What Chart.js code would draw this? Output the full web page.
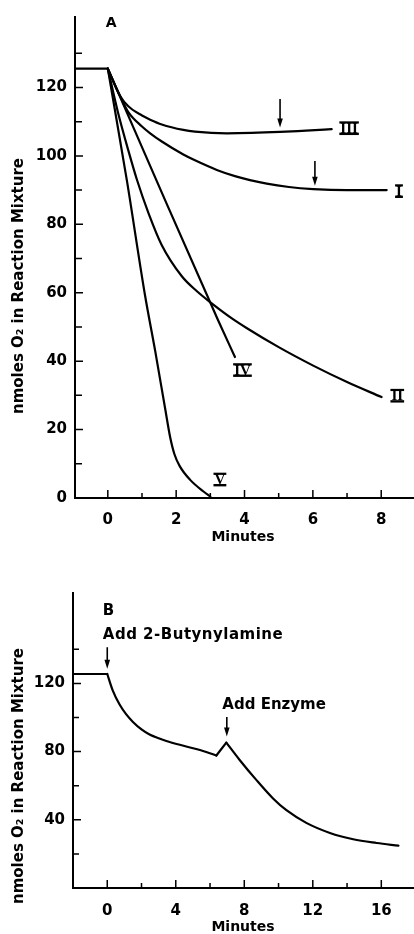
<!DOCTYPE html>
<html><head><meta charset="utf-8">
<script src="https://cdn.jsdelivr.net/npm/chart.js@4/dist/chart.umd.min.js"></script>
<style>
html,body{margin:0;padding:0;background:#fff;}
#wrapA{position:absolute;left:0;top:0;width:414px;height:550px;}
#wrapB{position:absolute;left:0;top:560px;width:414px;height:374px;}
canvas{display:block;}
</style></head><body>
<div id="wrapA"><canvas id="chartA" width="414" height="550"></canvas></div>
<div id="wrapB"><canvas id="chartB" width="414" height="374"></canvas></div>
<script>
// ---------- Panel A data (minutes, nmoles O2) ----------
const baseA_t = [-0.96, 0];
const baseA_o2 = [125.5, 125.5];
const curveI_t  = [0, 0.36, 0.6, 1.0, 1.24, 1.58, 2.21, 2.55, 3.19, 3.72, 4.65, 5.3, 6.01, 7.0, 8.16];
const curveI_o2 = [125.5, 117.5, 112.8, 108.6, 106.6, 104.2, 100.4, 98.7, 95.9, 94.1, 91.9, 90.9, 90.3, 90.0, 90.0];
const curveII_t  = [0, 0.3, 0.6, 0.85, 1.19, 1.58, 2.16, 2.6, 3.04, 3.63, 4.06, 5.0, 6.01, 7.0, 8.01];
const curveII_o2 = [125.5, 112.6, 101.6, 93.1, 83.3, 73.9, 64.9, 60.5, 56.9, 52.5, 49.7, 44.1, 38.7, 33.9, 29.5];
const curveIII_t  = [0, 0.36, 0.6, 1.0, 1.24, 1.58, 2.21, 2.55, 3.48, 4.2, 5.04, 5.8, 6.55];
const curveIII_o2 = [125.5, 117.5, 114.5, 111.8, 110.6, 109.2, 107.6, 107.1, 106.6, 106.7, 107.0, 107.4, 107.8];
const curveIV_t  = [0, 1.43, 3.23, 3.72];
const curveIV_o2 = [125.5, 92.7, 51.9, 41.2];
const curveV_t  = [0, 0.56, 1.09, 1.39, 1.68, 1.82, 1.95, 2.1, 2.41, 2.8, 3.0];
const curveV_o2 = [125.5, 92.7, 59.2, 42.8, 26.0, 18.0, 12.8, 9.4, 5.3, 1.9, 0.4];
const xTicksA = [0, 2, 4, 6, 8];
const xMinorA = [1, 3, 5, 7];
const yTicksA = [0, 20, 40, 60, 80, 100, 120];
const yMinorA = [10, 30, 50, 70, 90, 110, 130];
const curveLabelsA = ['I', 'II', 'III', 'IV', 'V'];
const curveLabelT  = [8.52, 8.47, 7.06, 3.94, 3.28];
const curveLabelO2 = [89.8, 30.0, 108.2, 37.5, 5.5];
const arrowA_t    = [5.04, 6.06];
const arrowA_from = [116.6, 98.5];
const arrowA_to   = [108.3, 91.3];

// ---------- Panel B data ----------
const baseB_t = [-2, 0];
const baseB_o2 = [125.5, 125.5];
const decay1_t  = [0, 0.33, 0.72, 1.11, 1.5, 2.0, 2.47, 3.0, 3.45, 4.61, 5.78, 6.37];
const decay1_o2 = [125.5, 115.6, 107.6, 101.8, 97.4, 93.0, 90.0, 87.8, 86.2, 83.0, 79.8, 77.7];
const spike_t  = [6.37, 6.95];
const spike_o2 = [77.7, 85.3];
const decay2_t  = [6.95, 7.73, 8.7, 9.68, 10.46, 11.62, 13.0, 14.36, 15.73, 17.0];
const decay2_o2 = [85.3, 75.1, 63.4, 52.5, 45.6, 38.2, 32.3, 28.6, 26.4, 24.8];
const xTicksB = [0, 4, 8, 12, 16];
const xMinorB = [2, 6, 10, 14];
const yTicksB = [40, 80, 120];
const yMinorB = [20, 60, 100, 140];
const notesB = ['Add 2-Butynylamine', 'Add Enzyme'];
const notesB_t = [-0.26, 6.72];
const notesB_o2 = [148.4, 107.2];
const arrowB_t = [0, 6.98];
const arrowB_from = [141.2, 100.3];
const arrowB_to = [128.6, 88.8];

const FONT = '"DejaVu Sans", sans-serif';
const pts = (xs, ys) => xs.map((x, i) => ({x, y: ys[i]}));
const line = (xs, ys, smooth) => ({
  data: pts(xs, ys), borderColor: '#000', borderWidth: 2.2, pointRadius: 0,
  fill: false, cubicInterpolationMode: smooth ? 'monotone' : 'default', tension: 0
});

function drawArrow(ctx, x, y1, y2) {
  ctx.save();
  ctx.strokeStyle = '#000'; ctx.fillStyle = '#000'; ctx.lineWidth = 1.6;
  ctx.beginPath(); ctx.moveTo(x, y1); ctx.lineTo(x, y2 - 6); ctx.stroke();
  ctx.beginPath(); ctx.moveTo(x - 2.8, y2 - 9); ctx.lineTo(x + 2.8, y2 - 9); ctx.lineTo(x, y2); ctx.closePath(); ctx.fill();
  ctx.restore();
}
function drawRoman(ctx, txt, cx, cy) {
  ctx.save();
  ctx.font = 'bold 15px "Liberation Serif", serif';
  ctx.fillStyle = '#000';
  ctx.textAlign = 'center'; ctx.textBaseline = 'middle';
  ctx.fillText(txt, cx, cy + 1);
  const w = ctx.measureText(txt).width + 2;
  ctx.fillRect(cx - w / 2, cy - 6.5, w, 2.2);
  ctx.fillRect(cx - w / 2, cy + 4.8, w, 2.4);
  ctx.restore();
}
function drawTicks(chart, xMaj, xMin, yMaj, yMin, majLen, minLen, yMinLen) {
  const {ctx, chartArea: a, scales: {x, y}} = chart;
  ctx.save(); ctx.strokeStyle = '#000'; ctx.lineWidth = 1.5;
  ctx.beginPath();
  xMaj.forEach(v => { const p = x.getPixelForValue(v); ctx.moveTo(p, a.bottom); ctx.lineTo(p, a.bottom - majLen); });
  xMin.forEach(v => { const p = x.getPixelForValue(v); ctx.moveTo(p, a.bottom); ctx.lineTo(p, a.bottom - minLen); });
  yMaj.forEach(v => { const p = y.getPixelForValue(v); ctx.moveTo(a.left, p); ctx.lineTo(a.left + majLen, p); });
  yMin.forEach(v => { const p = y.getPixelForValue(v); ctx.moveTo(a.left, p); ctx.lineTo(a.left + yMinLen, p); });
  ctx.stroke(); ctx.restore();
}
function drawYTitle(ctx, cx, cy) {
  ctx.save();
  ctx.translate(cx, cy); ctx.rotate(-Math.PI / 2);
  ctx.font = 'bold 15px ' + FONT; ctx.fillStyle = '#000';
  ctx.textAlign = 'center'; ctx.textBaseline = 'middle';
  ctx.fillText('nmoles O\u2082 in Reaction Mixture', 0, 0);
  ctx.restore();
}
function drawXTitle(ctx, cx, cy) {
  ctx.save();
  ctx.font = 'bold 14px ' + FONT; ctx.fillStyle = '#000';
  ctx.textAlign = 'center'; ctx.textBaseline = 'middle';
  ctx.fillText('Minutes', cx, cy);
  ctx.restore();
}

function axes(xmin, xmax, ymin, ymax, xt, yt, yw, xh, xpad) {
  const common = {
    grid: {display: true, drawOnChartArea: false, drawTicks: false},
    border: {display: true, color: '#000', width: 2}
  };
  return {
    x: Object.assign({}, common, {
      type: 'linear', min: xmin, max: xmax,
      afterBuildTicks: s => { s.ticks = xt.map(v => ({value: v})); },
      afterFit: s => { s.height = xh; },
      ticks: {color: '#000', padding: xpad, maxRotation: 0, font: {family: FONT, size: 15, weight: 'bold'}}
    }),
    y: Object.assign({}, common, {
      type: 'linear', min: ymin, max: ymax,
      afterBuildTicks: s => { s.ticks = yt.map(v => ({value: v})); },
      afterFit: s => { s.width = yw; },
      ticks: {color: '#000', padding: 8, font: {family: FONT, size: 15, weight: 'bold'}}
    })
  };
}

const pluginA = {
  id: 'deco',
  afterDraw(chart) {
    const {ctx, scales: {x, y}} = chart;
    drawTicks(chart, xTicksA, xMinorA, yTicksA, yMinorA, 8, 5, 7);
    curveLabelsA.forEach((t, i) => drawRoman(ctx, t, x.getPixelForValue(curveLabelT[i]), y.getPixelForValue(curveLabelO2[i])));
    arrowA_t.forEach((t, i) => drawArrow(ctx, x.getPixelForValue(t), y.getPixelForValue(arrowA_from[i]), y.getPixelForValue(arrowA_to[i])));
    ctx.save(); ctx.font = 'bold 14px ' + FONT; ctx.fillStyle = '#000'; ctx.textAlign = 'center'; ctx.textBaseline = 'middle';
    ctx.fillText('A', x.getPixelForValue(0.1), y.getPixelForValue(138.8)); ctx.restore();
    drawYTitle(ctx, 19, 286);
    drawXTitle(ctx, 243, 537);
  }
};
const pluginB = {
  id: 'deco',
  afterDraw(chart) {
    const {ctx, scales: {x, y}} = chart;
    drawTicks(chart, xTicksB, xMinorB, yTicksB, yMinorB, 8, 5, 6);
    ctx.save(); ctx.font = 'bold 15px ' + FONT; ctx.fillStyle = '#000'; ctx.textAlign = 'left'; ctx.textBaseline = 'middle';
    ctx.fillText('B', x.getPixelForValue(-0.27), y.getPixelForValue(162.4));
    ctx.letterSpacing = '0.5px';
    ctx.fillText(notesB[0], x.getPixelForValue(notesB_t[0]), y.getPixelForValue(notesB_o2[0]));
    ctx.letterSpacing = '0px';
    ctx.fillText(notesB[1], x.getPixelForValue(notesB_t[1]), y.getPixelForValue(notesB_o2[1]));
    ctx.restore();
    arrowB_t.forEach((t, i) => drawArrow(ctx, x.getPixelForValue(t), y.getPixelForValue(arrowB_from[i]), y.getPixelForValue(arrowB_to[i])));
    drawYTitle(ctx, 19, 216);
    drawXTitle(ctx, 243, 367);
  }
};

const baseOpts = {
  responsive: false, animation: false, devicePixelRatio: 1,
  plugins: {legend: {display: false}, tooltip: {enabled: false}, title: {display: false}},
  elements: {line: {borderCapStyle: 'round', borderJoinStyle: 'round'}}
};

new Chart(document.getElementById('chartA'), {
  type: 'line',
  data: {datasets: [
    line(baseA_t, baseA_o2, false),
    line(curveI_t, curveI_o2, true),
    line(curveII_t, curveII_o2, true),
    line(curveIII_t, curveIII_o2, true),
    line(curveIV_t, curveIV_o2, true),
    line(curveV_t, curveV_o2, true)
  ]},
  options: Object.assign({}, baseOpts, {
    layout: {padding: {top: 15, right: 1, left: 0, bottom: 0}},
    scales: axes(-0.96, 8.93, 0, 140.6, xTicksA, yTicksA, 75, 52, 13)
  }),
  plugins: [pluginA]
});

new Chart(document.getElementById('chartB'), {
  type: 'line',
  data: {datasets: [
    line(baseB_t, baseB_o2, false),
    line(decay1_t, decay1_o2, true),
    line(spike_t, spike_o2, false),
    line(decay2_t, decay2_o2, true)
  ]},
  options: Object.assign({}, baseOpts, {
    layout: {padding: {top: 33, right: 1, left: 0, bottom: 0}},
    scales: axes(-2, 17.85, 0, 173, xTicksB, yTicksB, 73, 46, 14)
  }),
  plugins: [pluginB]
});
</script>
</body></html>
